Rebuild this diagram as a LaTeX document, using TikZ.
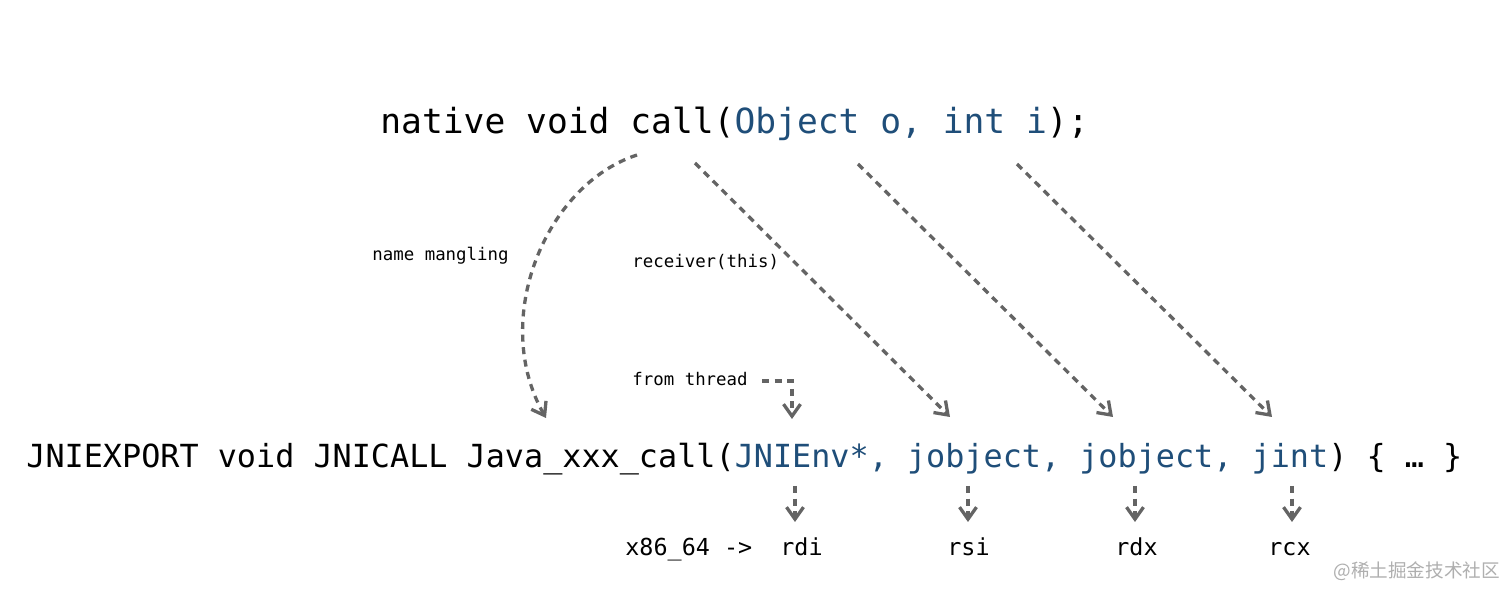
\documentclass[tikz,border=0pt]{standalone}
\usepackage{fontspec}
\newfontfamily\mono{DejaVu Sans Mono}
\newfontfamily\cjk{Noto Sans CJK SC}
\usetikzlibrary{arrows.meta}
\definecolor{jblue}{RGB}{31,78,121}
\definecolor{arrgray}{RGB}{100,100,100}
\definecolor{wmgray}{RGB}{175,175,175}
\begin{document}
\begin{tikzpicture}[x=0.5pt,y=-0.5pt,
  txt/.style={inner sep=0pt, anchor=base west},
  big/.style={txt, font=\mono\fontsize{17.3}{20}\selectfont},
  mid/.style={txt, font=\mono\fontsize{15.9}{19}\selectfont},
  lbl/.style={txt, font=\mono\fontsize{8.7}{10}\selectfont},
  reg/.style={txt, font=\mono\fontsize{11.7}{13}\selectfont},
  conn/.style={draw=arrgray, line width=1.65pt, dash pattern=on 3.5pt off 2.8pt,
    -{Straight Barb[length=6pt,width=8.5pt]}},
]
\path[use as bounding box, fill=white] (0,0) rectangle (1512,598);

% texts
\node[big] (java) at (380,134) {native void call(\textcolor{jblue}{Object o, int i});};
\node[mid] (jni) at (26,468) {JNIEXPORT void JNICALL Java\_xxx\_call(\textcolor{jblue}{JNIEnv*, jobject, jobject, jint}) \{ … \}};
\node[lbl] (nm) at (372,261) {name mangling};
\node[lbl] (rcv) at (632,268) {receiver(this)};
\node[lbl] (ft) at (632,386) {from thread};
\node[reg] (arch) at (625,556) {x86\_64 ->};
\node[reg] (rdi) at (780,556) {rdi};
\node[reg] (rsi) at (947,556) {rsi};
\node[reg] (rdx) at (1115,556) {rdx};
\node[reg] (rcx) at (1268,556) {rcx};
\node[txt, font=\cjk\fontsize{9.3}{10}\selectfont, text=wmgray] (wm) at (1333,578) {@稀土掘金技术社区};

% connector end points
\coordinate (a1s) at (637,155);  \coordinate (a1e) at (546,418);
\coordinate (a2s) at (695,163);  \coordinate (a2e) at (950,417);
\coordinate (a3s) at (858,164);  \coordinate (a3e) at (1113,417);
\coordinate (a4s) at (1017,164); \coordinate (a4e) at (1272,417);
\coordinate (fts) at (762,381);  \coordinate (fte) at (792,419);
\coordinate (b1s) at (795,486);  \coordinate (b1e) at (795,522);
\coordinate (b2s) at (968,486);  \coordinate (b2e) at (968,522);
\coordinate (b3s) at (1135,486); \coordinate (b3e) at (1135,522);
\coordinate (b4s) at (1292,486); \coordinate (b4e) at (1292,522);

% connectors
\draw[conn] (a1s) .. controls (545,185) and (490,320) .. (a1e);
\draw[conn] (a2s) -- (a2e);
\draw[conn] (a3s) -- (a3e);
\draw[conn] (a4s) -- (a4e);
\draw[conn] (fts) -| (fte);
\draw[conn] (b1s) -- (b1e);
\draw[conn] (b2s) -- (b2e);
\draw[conn] (b3s) -- (b3e);
\draw[conn] (b4s) -- (b4e);
\end{tikzpicture}
\end{document}
